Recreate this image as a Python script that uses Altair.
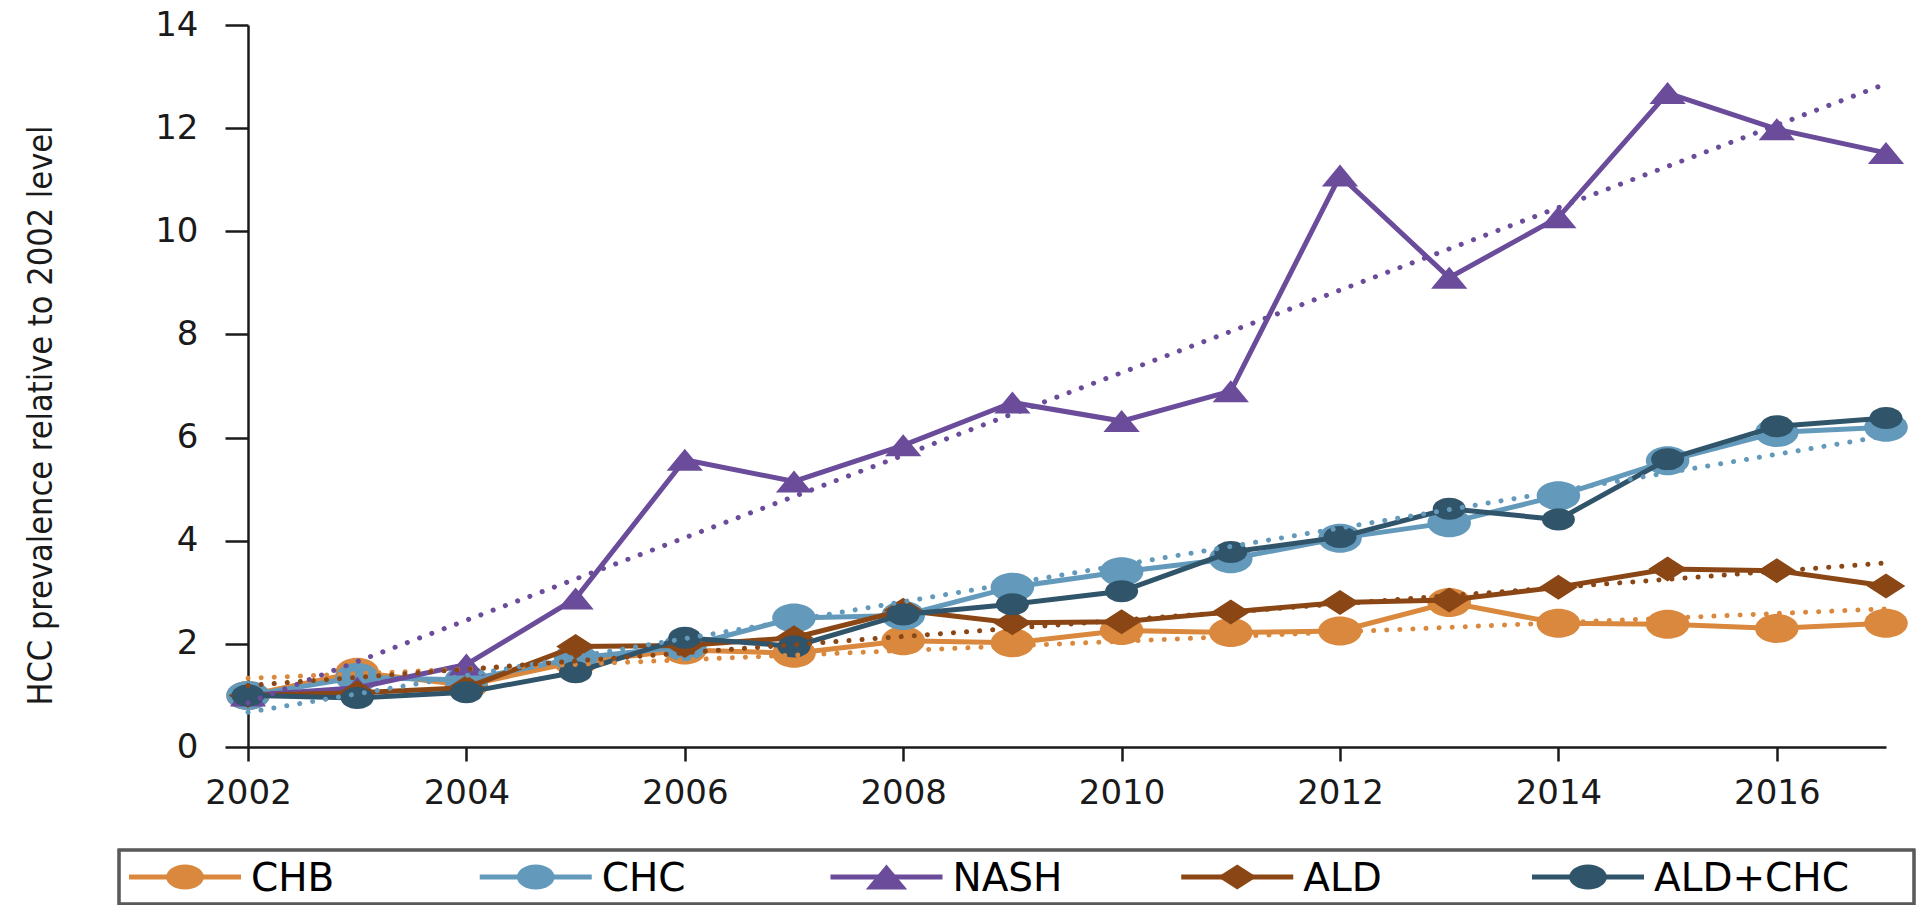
import altair as alt
import pandas as pd

# ---- data -------------------------------------------------------------
years = list(range(2002, 2018))
series_names = ["CHB", "CHC", "NASH", "ALD", "ALD+CHC"]

chb = [1.0, 1.45, 1.2, 1.65, 1.88, 1.82, 2.06, 2.02, 2.26, 2.22, 2.25, 2.8, 2.4, 2.38, 2.3, 2.4]
chc = [1.0, 1.35, 1.3, 1.72, 1.95, 2.5, 2.55, 3.1, 3.4, 3.65, 4.05, 4.35, 4.87, 5.55, 6.1, 6.2]
nash = [1.0, 1.15, 1.6, 2.88, 5.57, 5.15, 5.85, 6.68, 6.32, 6.9, 11.08, 9.1, 10.27, 12.68, 11.98, 11.52]
ald = [1.0, 1.05, 1.15, 1.95, 1.97, 2.12, 2.65, 2.41, 2.43, 2.62, 2.8, 2.85, 3.1, 3.45, 3.42, 3.12]
ald_chc = [1.0, 0.95, 1.06, 1.45, 2.12, 1.95, 2.57, 2.77, 3.02, 3.78, 4.07, 4.62, 4.41, 5.58, 6.22, 6.38]

values = {"CHB": chb, "CHC": chc, "NASH": nash, "ALD": ald, "ALD+CHC": ald_chc}
trend_series = ["CHB", "CHC", "NASH", "ALD"]

y_ticks = list(range(0, 15, 2))
x_ticks = list(range(2002, 2017, 2))

# ---- styling ----------------------------------------------------------
colors = {
    "CHB": "#D9883D",
    "CHC": "#6399BB",
    "NASH": "#6A4C9B",
    "ALD": "#8A4614",
    "ALD+CHC": "#30546A",
}
ELLIPSE = "M -1.5 0 A 1.5 1 0 1 1 1.5 0 A 1.5 1 0 1 1 -1.5 0 Z"
TRIANGLE = "M 0 -1 L 1.65 1 L -1.65 1 Z"
DIAMOND = "M 0 -1 L 1.55 0 L 0 1 L -1.55 0 Z"
shapes = {"CHB": ELLIPSE, "CHC": ELLIPSE, "NASH": TRIANGLE, "ALD": DIAMOND, "ALD+CHC": ELLIPSE}
sizes = {"CHB": 841, "CHC": 841, "NASH": 484, "ALD": 625, "ALD+CHC": 484}

INK = "#1a1a1a"
TICK_FONT = "DejaVu Sans"
TITLE_FONT = "DejaVu Sans Condensed, Liberation Sans Narrow, Liberation Sans, sans-serif"

df = pd.DataFrame(
    [{"year": y, "series": s, "value": v} for s in series_names for y, v in zip(years, values[s])]
)

x_enc = alt.X(
    "year:Q",
    scale=alt.Scale(domain=[2002, 2017], nice=False, zero=False),
    axis=alt.Axis(
        values=x_ticks, format="d", title=None, grid=False,
        domainColor=INK, domainWidth=2.5, tickColor=INK, tickWidth=2.5, tickSize=14,
        labelFont=TICK_FONT, labelFontSize=34, labelColor=INK, labelPadding=15,
        labelOverlap=False, labelFlush=False,
    ),
)
y_enc = alt.Y(
    "value:Q",
    scale=alt.Scale(domain=[0, 14], nice=False),
    axis=alt.Axis(
        values=y_ticks, grid=False,
        title="HCC prevalence relative to 2002 level",
        titleFont=TITLE_FONT, titleFontSize=34, titleFontWeight="normal",
        titleColor=INK, titleAngle=-90, titleX=-207, titleY=390,
        titleAlign="center", titleBaseline="middle",
        domainColor=INK, domainWidth=2.5, tickColor=INK, tickWidth=2.5, tickSize=23,
        labelFont=TICK_FONT, labelFontSize=34, labelColor=INK, labelPadding=27,
        labelOverlap=False,
    ),
)

base = alt.Chart(df)

# series lines and markers, drawn series by series
series_layers = []
for name in series_names:
    sub = base.transform_filter(alt.datum.series == name)
    series_layers.append(
        sub.mark_line(color=colors[name], strokeWidth=5).encode(x=x_enc, y=y_enc)
    )
    series_layers.append(
        sub.mark_point(filled=True, opacity=1, shape=shapes[name], size=sizes[name],
                       color=colors[name], strokeWidth=0).encode(x=x_enc, y=y_enc)
    )

# dotted linear trend lines
trend_layers = []
for name in trend_series:
    trend_layers.append(
        base.transform_filter(alt.datum.series == name)
        .transform_regression("year", "value", method="linear", extent=[2002, 2017])
        .mark_line(color=colors[name], strokeWidth=5, strokeDash=[0.1, 13], strokeCap="round")
        .encode(x=x_enc, y=y_enc)
    )

main = alt.layer(*series_layers, *trend_layers)

# ---- legend row below the axis ----------------------------------------
legend_df = pd.DataFrame({"series": series_names})
leg_x = alt.X(
    "series:N",
    scale=alt.Scale(type="point", domain=series_names, range=[-63, 1340], padding=0),
    axis=None,
)
leg_x2 = alt.X2("series:N")
leg_color = alt.Color(
    "series:N", scale=alt.Scale(domain=series_names, range=[colors[s] for s in series_names]),
    legend=None,
)
leg_shape = alt.Shape(
    "series:N", scale=alt.Scale(domain=series_names, range=[shapes[s] for s in series_names]),
    legend=None,
)
leg_size = alt.Size(
    "series:N", scale=alt.Scale(domain=series_names, range=[int(sizes[s] * 0.75) for s in series_names]),
    legend=None,
)
LEG_Y = 852

leg_box = alt.Chart(legend_df).mark_rect(
    filled=False, stroke="#5a5a5a", strokeWidth=2.5
).encode(x=alt.value(-129), x2=alt.value(1666), y=alt.value(825), y2=alt.value(879))

leg_lines = alt.Chart(legend_df).mark_rule(strokeWidth=5, xOffset=-56, x2Offset=56).encode(
    x=leg_x, x2=leg_x2, y=alt.value(LEG_Y), color=leg_color
)
leg_marks = alt.Chart(legend_df).mark_point(filled=True, opacity=1, strokeWidth=0).encode(
    x=leg_x, y=alt.value(LEG_Y), color=leg_color, shape=leg_shape, size=leg_size
)
leg_text = alt.Chart(legend_df).mark_text(
    align="left", baseline="middle", dx=66, font=TICK_FONT, fontSize=39, color="black"
).encode(x=leg_x, y=alt.value(LEG_Y + 2), text="series:N")

legend = alt.layer(leg_box, leg_lines, leg_marks, leg_text)

chart = (
    alt.layer(main, legend)
    .resolve_scale(x="independent", color="independent", shape="independent", size="independent")
    .properties(
        width=1638, height=722,
        padding={"left": 23, "top": 8, "right": 0, "bottom": 0},
        background="white",
    )
    .configure_view(stroke=None)
)

chart.save("out.html", embed_options={"renderer": "svg", "actions": False})
